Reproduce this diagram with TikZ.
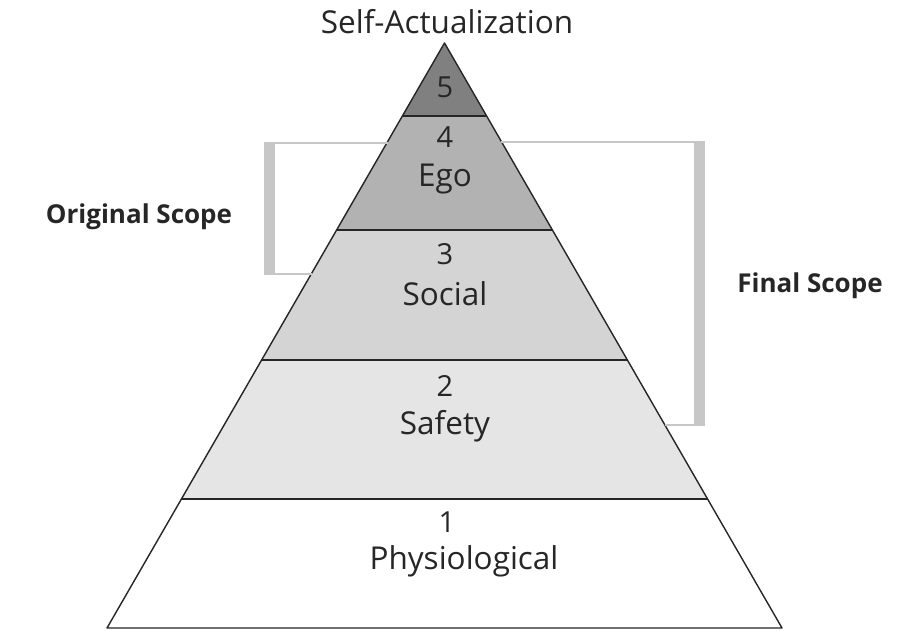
\documentclass[tikz,border=0pt]{standalone}
\usepackage{fontspec}
\setmainfont{Open Sans}
\begin{document}
\begin{tikzpicture}[x=1pt,y=-1pt,
  tier/.style={draw=black!85,line width=1.4pt,line join=round},
  scopebar/.style={fill=black!22,draw=none},
  scopeline/.style={draw=black!22,line width=1.3pt},
  lbl/.style={font=\fontsize{31.5}{33}\selectfont,text=black!85,inner sep=0pt,anchor=base},
  digit/.style={font=\fontsize{29}{31}\selectfont,text=black!85,inner sep=0pt,anchor=base},
  side/.style={font=\fontsize{26}{28}\selectfont\bfseries,text=black!85,inner sep=0pt,anchor=base}]
\useasboundingbox (0,0) rectangle (904,630);
\fill[white] (0,0) rectangle (904,630);
% tiers of the pyramid, bottom to top
\fill[white] (107,628) -- (782,628) -- (707.6,499) -- (181.4,499) -- cycle;
\fill[black!10] (181.4,499) -- (707.6,499) -- (627.6,360) -- (261.4,360) -- cycle;
\fill[black!17] (261.4,360) -- (627.6,360) -- (552.7,230) -- (336.3,230) -- cycle;
\fill[black!30] (336.3,230) -- (552.7,230) -- (487,116) -- (402,116) -- cycle;
\fill[black!50] (402,116) -- (487,116) -- (444.5,43) -- cycle;
\draw[tier] (181.4,499) -- (707.6,499);
\draw[tier] (261.4,360) -- (627.6,360);
\draw[tier] (336.3,230) -- (552.7,230);
\draw[tier] (402,116) -- (487,116);
\draw[tier] (444.5,43) -- (107,628) -- (782,628) -- cycle;
% original scope bracket
\draw[scopeline] (270,143) -- (387.8,143);
\draw[scopeline] (270,274) -- (312,274);
\fill[scopebar] (264,142) rectangle (275,275);
% final scope bracket
\draw[scopeline] (501,142) -- (700,142);
\draw[scopeline] (664.5,425) -- (700,425);
\fill[scopebar] (694,141) rectangle (705,426);
% labels
\node[lbl] (top) at (447,33) {Self-Actualization};
\node[digit] (n5) at (445,97) {5};
\node[digit] (n4) at (445,147) {4};
\node[lbl] (ego) at (445,186) {Ego};
\node[digit] (n3) at (445,264) {3};
\node[lbl] (social) at (445,305) {Social};
\node[digit] (n2) at (445,396) {2};
\node[lbl] (safety) at (445,434) {Safety};
\node[digit] (n1) at (447,532) {1};
\node[lbl] (phys) at (464,569) {Physiological};
\node[side] (orig) at (139,223) {Original Scope};
\node[side] (final) at (810,292) {Final Scope};
\end{tikzpicture}
\end{document}
